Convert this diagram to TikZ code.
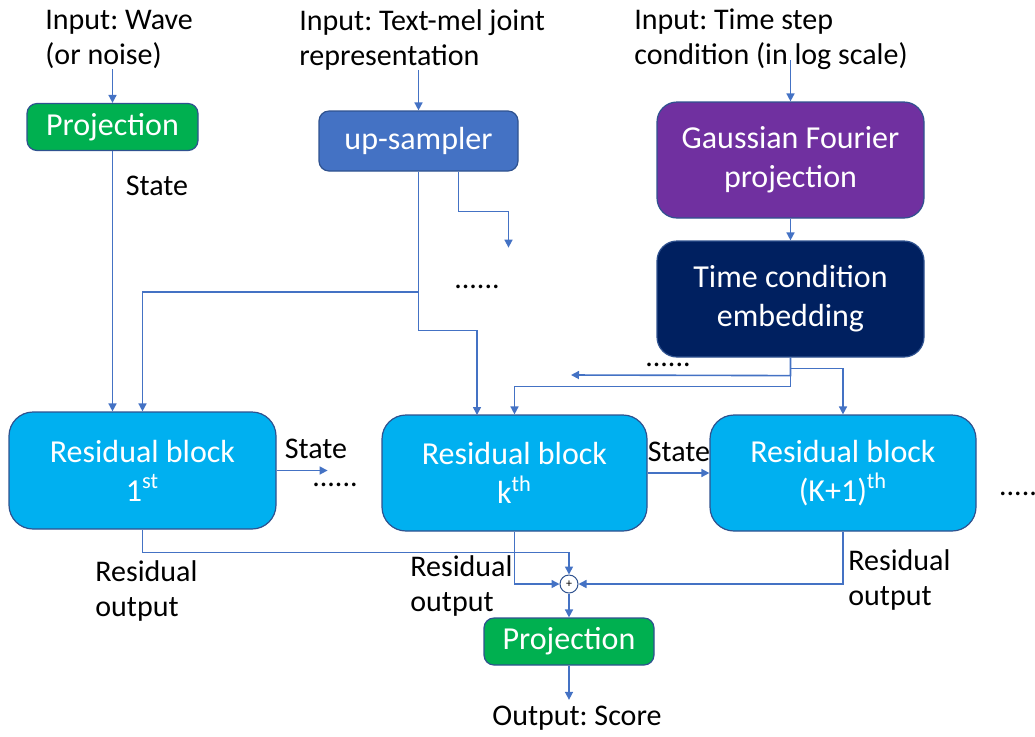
\documentclass[tikz,border=0pt]{standalone}
\usepackage{fontspec}
\setmainfont{Carlito}
\usepackage{xcolor}
\usepackage{tikz}
\usetikzlibrary{arrows.meta,positioning,calc}
\definecolor{projg}{HTML}{00B050}
\definecolor{upsb}{HTML}{4472C4}
\definecolor{gfp}{HTML}{7030A0}
\definecolor{embn}{HTML}{002060}
\definecolor{resb}{HTML}{00B0F0}
\definecolor{edge}{HTML}{2F528F}
\definecolor{wire}{HTML}{4472C4}
\frenchspacing

\begin{document}
\begin{tikzpicture}[x=0.5pt, y=-0.5pt,
  blk/.style={draw=edge, line width=0.6pt, text=white, align=center, inner sep=0pt, font=\fontsize{16}{19.5}\selectfont},
  lbl/.style={font=\fontsize{15}{17.5}\selectfont, align=left, inner sep=0pt},
  arr/.style={-{Triangle[length=4pt,width=4pt]}, draw=wire, line width=0.8pt}]
  \useasboundingbox (0,0) rectangle (1035,736);
  % inputs
  \node[lbl, anchor=west] (inWave) at (45,39.5) {Input: Wave\\(or noise)};
  \node[lbl, anchor=west] (inText) at (299,39.5) {Input: Text-mel joint\\representation};
  \node[lbl, anchor=west] (inTime) at (634,39.5) {Input: Time step\\condition (in log scale)};
  % top boxes
  \node[blk, fill=projg, rounded corners=5pt, minimum width=85.5pt, minimum height=23.5pt] (proj1) at (112.5,127) {Projection};
  \node[blk, fill=upsb, rounded corners=5pt, minimum width=99.5pt, minimum height=30pt] (up) at (418.5,141) {up-sampler};
  \node[blk, fill=gfp, rounded corners=10pt, minimum width=133.5pt, minimum height=58pt] (gauss) at (790.5,160) {Gaussian Fourier\\projection};
  \node[blk, fill=embn, rounded corners=10pt, minimum width=133.5pt, minimum height=58pt] (emb) at (790.5,299) {Time condition\\embedding};
  % residual blocks
  \node[blk, fill=resb, rounded corners=12pt, minimum width=133.5pt, minimum height=58.5pt] (res1) at (142.5,470.5) {Residual block\\1\textsuperscript{st}};
  \node[blk, fill=resb, rounded corners=12pt, minimum width=132.5pt, minimum height=58pt] (resk) at (514.5,473) {Residual block\\k\textsuperscript{th}};
  \node[blk, fill=resb, rounded corners=12pt, minimum width=133pt, minimum height=58pt] (resk1) at (843,473) {Residual block\\(K+1)\textsuperscript{th}};
  % output side
  \node[circle, draw=edge, fill=white, line width=0.5pt, inner sep=0pt, minimum size=9pt, font=\fontsize{6}{6}\selectfont] (plus) at (569,584) {+};
  \node[blk, fill=projg, rounded corners=5pt, minimum width=85pt, minimum height=23.5pt] (proj2) at (569,641.5) {Projection};
  \node[lbl, outer sep=3pt] (out) at (577,718) {Output: Score};
  % labels
  \node[lbl] (st0) at (157,186) {State};
  \node[lbl] (st1) at (316,449) {State};
  \node[lbl] (st2) at (679,452) {State};
  \node[lbl] (dt1) at (477,287) {......};
  \node[lbl] (dt2) at (668,365) {......};
  \node[lbl] (dt3) at (335,485) {......};
  \node[lbl] (dt4) at (1018,494) {.....};
  \node[lbl, anchor=west] (ro1) at (95,591) {Residual\\output};
  \node[lbl, anchor=west] (ro2) at (410,586) {Residual\\output};
  \node[lbl, anchor=west] (ro3) at (848,580) {Residual\\output};
  % wires
  \draw[arr] (proj1.north |- inWave.south) -- (proj1.north);
  \draw[arr] (up.north |- inText.south) -- (up.north);
  \draw[arr] ([yshift=5pt]gauss.north |- inTime.south) -- (gauss.north);
  \draw[arr] (gauss) -- (emb);
  \draw[arr] (proj1.south) -- (proj1.south |- res1.north);
  \coordinate (tapA) at (up.south |- 0,292);
  \draw[arr] (up.south) -- (tapA) -| (res1.north);
  \coordinate (kin1) at (477,415);
  \draw[arr] (up.south) -- ++(0,159) -| (kin1);
  \draw[arr] ([xshift=20pt]up.south) -- ++(0,40) -| ++(50,36);
  \coordinate (tail1) at (571,375);
  \draw[arr] (emb.south) -- ++(0,18) -- (tail1);
  \draw[arr] (emb.south) -- ++(0,29) -| (resk.north);
  \draw[arr] (emb.south) -- ++(0,11) -| (resk1.north);
  \draw[arr] (res1.east) -- ++(51,0);
  \draw[arr] (resk.east) -- (resk1.west);
  \draw[arr] (res1.south) -- ++(0,23) -| (plus.north);
  \draw[arr] (resk.south) |- (plus.west);
  \draw[arr] (resk1.south) |- (plus.east);
  \draw[arr] (plus) -- (proj2);
  \draw[arr] (proj2.south) -- (proj2.south |- out.north);
\end{tikzpicture}
\end{document}
